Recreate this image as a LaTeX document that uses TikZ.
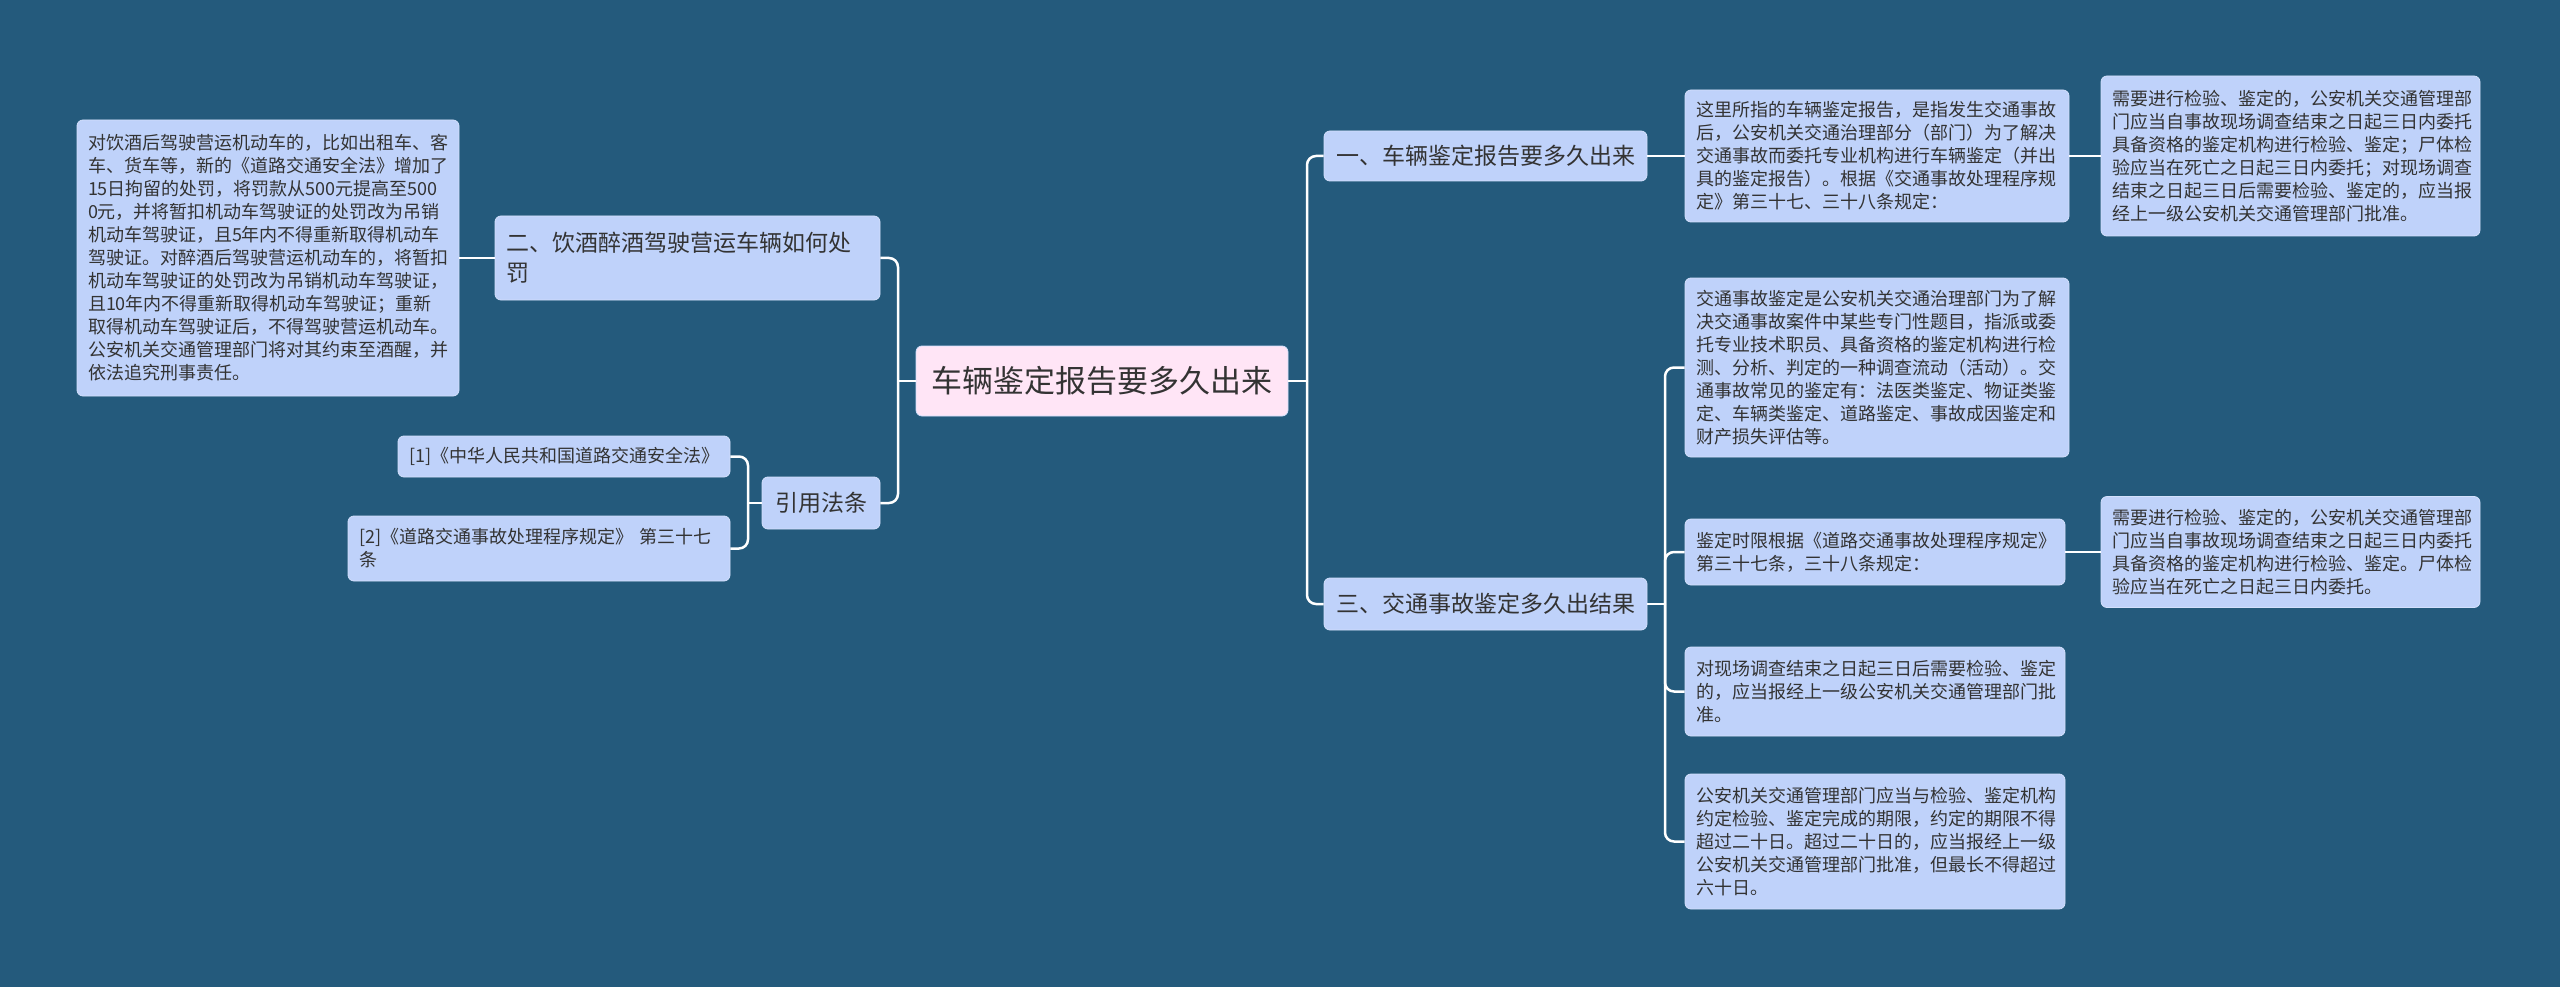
\documentclass[tikz,border=0pt]{standalone}
\usepackage{fontspec}
\newfontfamily\cjk{Noto Sans CJK SC}
\definecolor{bgblue}{HTML}{245A7C}
\definecolor{boxblue}{HTML}{BFD2FA}
\definecolor{boxline}{HTML}{D3E0FC}
\definecolor{rootpink}{HTML}{FFE5F6}
\definecolor{inkgray}{HTML}{333333}
\begin{document}
\begin{tikzpicture}[x=1pt, y=-1pt,
    every node/.style={rounded corners=6pt, fill=boxblue, draw=boxline, line width=0.8pt, text=inkgray, inner xsep=11pt, inner ysep=0pt},
    leaf/.style={font=\cjk\fontsize{18}{23}\selectfont, align=left},
    topic/.style={font=\cjk\fontsize{23}{30}\selectfont, align=left},
    link/.style={draw=white, line width=2.5pt, rounded corners=9pt}]
    \fill[bgblue] (0,0) rectangle (2560,987);
    % root
    \node[fill=rootpink, font=\cjk\fontsize{31}{36}\selectfont, minimum width=372pt, minimum height=70pt] (root) at (1102,381) {车辆鉴定报告要多久出来};
    % main topics
    \node[topic, minimum width=323pt, minimum height=50pt] (one) at (1485.5,156) {一、车辆鉴定报告要多久出来};
    \node[topic, minimum width=323pt, minimum height=52pt] (three) at (1485.5,604) {三、交通事故鉴定多久出结果};
    \node[topic, text width=363pt, minimum height=84pt] (two) at (687.5,258) {二、饮酒醉酒驾驶营运车辆如何处\\罚};
    \node[topic, minimum width=118pt, minimum height=52pt] (laws) at (821,503) {引用法条};
    % leaves
    \node[leaf, text width=360pt, minimum height=276pt] (drunk) at (268,258) {对饮酒后驾驶营运机动车的，比如出租车、客\\车、货车等，新的《道路交通安全法》增加了\\15日拘留的处罚，将罚款从500元提高至500\\0元，并将暂扣机动车驾驶证的处罚改为吊销\\机动车驾驶证，且5年内不得重新取得机动车\\驾驶证。对醉酒后驾驶营运机动车的，将暂扣\\机动车驾驶证的处罚改为吊销机动车驾驶证，\\且10年内不得重新取得机动车驾驶证；重新\\取得机动车驾驶证后，不得驾驶营运机动车。\\公安机关交通管理部门将对其约束至酒醒，并\\依法追究刑事责任。};
    \node[leaf, text width=310pt, minimum height=41pt] (lawa) at (564,456.5) {[1]《中华人民共和国道路交通安全法》};
    \node[leaf, text width=360pt, minimum height=65pt] (lawb) at (539,548.5) {[2]《道路交通事故处理程序规定》 第三十七\\条};
    \node[leaf, text width=362pt, minimum height=132pt] (report) at (1877,156) {这里所指的车辆鉴定报告，是指发生交通事故\\后，公安机关交通治理部分（部门）为了解决\\交通事故而委托专业机构进行车辆鉴定（并出\\具的鉴定报告）。根据《交通事故处理程序规\\定》第三十七、三十八条规定：};
    \node[leaf, text width=357pt, minimum height=160pt] (rulea) at (2290.5,156) {需要进行检验、鉴定的，公安机关交通管理部\\门应当自事故现场调查结束之日起三日内委托\\具备资格的鉴定机构进行检验、鉴定；尸体检\\验应当在死亡之日起三日内委托；对现场调查\\结束之日起三日后需要检验、鉴定的，应当报\\经上一级公安机关交通管理部门批准。};
    \node[leaf, text width=362pt, minimum height=179pt] (what) at (1877,367.5) {交通事故鉴定是公安机关交通治理部门为了解\\决交通事故案件中某些专门性题目，指派或委\\托专业技术职员、具备资格的鉴定机构进行检\\测、分析、判定的一种调查流动（活动）。交\\通事故常见的鉴定有：法医类鉴定、物证类鉴\\定、车辆类鉴定、道路鉴定、事故成因鉴定和\\财产损失评估等。};
    \node[leaf, text width=358pt, minimum height=66pt] (limit) at (1875,552) {鉴定时限根据《道路交通事故处理程序规定》\\第三十七条，三十八条规定：};
    \node[leaf, text width=357pt, minimum height=111pt] (ruleb) at (2290.5,552) {需要进行检验、鉴定的，公安机关交通管理部\\门应当自事故现场调查结束之日起三日内委托\\具备资格的鉴定机构进行检验、鉴定。尸体检\\验应当在死亡之日起三日内委托。};
    \node[leaf, text width=358pt, minimum height=89pt] (later) at (1875,691.5) {对现场调查结束之日起三日后需要检验、鉴定\\的，应当报经上一级公安机关交通管理部门批\\准。};
    \node[leaf, text width=358pt, minimum height=135pt] (term) at (1875,841.5) {公安机关交通管理部门应当与检验、鉴定机构\\约定检验、鉴定完成的期限，约定的期限不得\\超过二十日。超过二十日的，应当报经上一级\\公安机关交通管理部门批准，但最长不得超过\\六十日。};
    % junctions
    \coordinate (jleft) at (898,381);
    \coordinate (jright) at (1307,381);
    \coordinate (jthree) at (1665,604);
    \coordinate (jlaws) at (748,503);
    % connectors
    \draw[link] (root.west) -- (jleft);
    \draw[link] (jleft) |- (two.east);
    \draw[link] (jleft) |- (laws.east);
    \draw[link] (root.east) -- (jright);
    \draw[link] (jright) |- (one.west);
    \draw[link] (jright) |- (three.west);
    \draw[link] (one.east) -- (report.west);
    \draw[link] (report.east) -- (rulea.west);
    \draw[link] (three.east) -- (jthree);
    \draw[link] (jthree) |- (what.west);
    \draw[link] (jthree) |- (limit.west);
    \draw[link] (jthree) |- (later.west);
    \draw[link] (jthree) |- (term.west);
    \draw[link] (limit.east) -- (ruleb.west);
    \draw[link] (two.west) -- (drunk.east);
    \draw[link] (laws.west) -- (jlaws);
    \draw[link] (jlaws) |- (lawa.east);
    \draw[link] (jlaws) |- (lawb.east);
\end{tikzpicture}
\end{document}
